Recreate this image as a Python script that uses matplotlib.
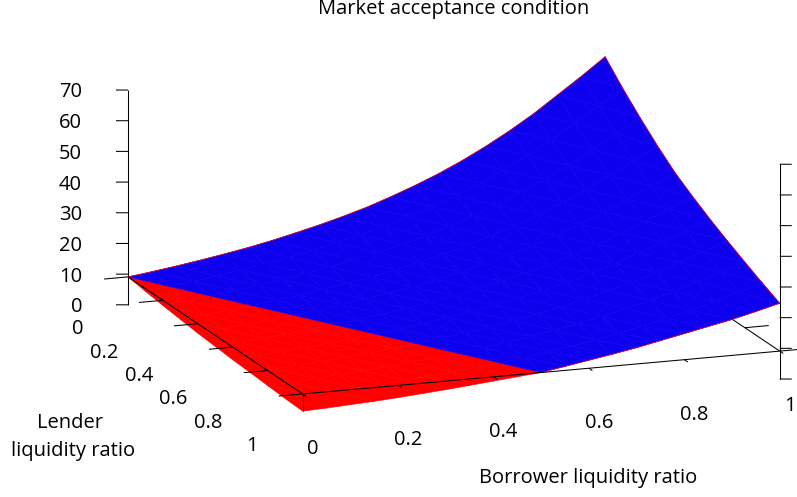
import numpy as np
import matplotlib
matplotlib.use('Agg')
import matplotlib.pyplot as plt

plt.rcParams['font.family'] = ['Open Sans', 'DejaVu Sans']

# Surface heights, one row per lender ratio
x_values = [0.0, 0.05, 0.1, 0.15, 0.2, 0.25, 0.3, 0.35, 0.4, 0.45, 0.5,
            0.55, 0.6, 0.65, 0.7, 0.75, 0.8, 0.85, 0.9, 0.95, 1.0]
y_values = [0.0, 0.1, 0.2, 0.3, 0.4, 0.5, 0.6, 0.7, 0.8, 0.9, 1.0]
z_y00 = [9.1, 10.1, 11.2, 12.4, 13.7, 15.1, 16.7, 18.5, 20.4, 22.5, 24.8, 27.5, 30.4, 33.6, 37.2, 41.2, 45.6, 50.4, 55.8, 61.2, 66.9]
z_y01 = [8.2, 9.1, 10.1, 11.2, 12.4, 13.7, 15.1, 16.7, 18.5, 20.4, 22.4, 24.9, 27.5, 30.4, 33.7, 37.3, 41.3, 45.6, 50.5, 55.4, 60.5]
z_y02 = [7.4, 8.3, 9.1, 10.1, 11.2, 12.4, 13.7, 15.1, 16.7, 18.4, 20.3, 22.5, 24.9, 27.5, 30.4, 33.7, 37.3, 41.2, 45.6, 50.1, 54.7]
z_y03 = [6.7, 7.4, 8.3, 9.1, 10.1, 11.1, 12.3, 13.6, 15.0, 16.6, 18.3, 20.3, 22.4, 24.8, 27.4, 30.4, 33.6, 37.1, 41.1, 45.1, 49.3]
z_y04 = [6.0, 6.7, 7.4, 8.2, 9.1, 10.0, 11.1, 12.3, 13.5, 14.9, 16.5, 18.3, 20.2, 22.3, 24.7, 27.4, 30.3, 33.5, 37.1, 40.6, 44.4]
z_y05 = [5.5, 6.1, 6.8, 7.5, 8.3, 9.1, 10.1, 11.2, 12.3, 13.6, 15.0, 16.6, 18.4, 20.3, 22.5, 24.9, 27.6, 30.5, 33.8, 37.0, 40.5]
z_y06 = [5.0, 5.6, 6.2, 6.8, 7.6, 8.3, 9.1, 10.2, 11.3, 12.4, 13.7, 15.2, 16.8, 18.5, 20.5, 22.7, 25.2, 27.8, 30.8, 33.8, 36.9]
z_y07 = [4.6, 5.1, 5.6, 6.2, 6.9, 7.6, 8.4, 9.1, 10.2, 11.3, 12.4, 13.8, 15.3, 16.9, 18.7, 20.7, 22.9, 25.3, 28.0, 30.7, 33.6]
z_y08 = [4.2, 4.6, 5.1, 5.7, 6.2, 6.9, 7.6, 8.4, 9.1, 10.3, 11.3, 12.5, 13.9, 15.3, 17.0, 18.8, 20.8, 23.0, 25.4, 27.9, 30.5]
z_y09 = [3.8, 4.2, 4.6, 5.1, 5.6, 6.2, 6.9, 7.6, 8.4, 9.1, 10.2, 11.3, 12.5, 13.8, 15.3, 16.9, 18.7, 20.7, 22.9, 25.2, 27.5]
z_y10 = [3.5, 3.8, 4.2, 4.6, 5.1, 5.7, 6.3, 7.0, 7.7, 8.4, 9.1, 10.4, 11.7, 13.0, 14.4, 16.0, 17.6, 19.2, 20.8, 22.7, 24.7]

x_ticks = [0, 0.2, 0.4, 0.6, 0.8, 1]
y_ticks = [0, 0.2, 0.4, 0.6, 0.8, 1]
z_ticks = [0, 10, 20, 30, 40, 50, 60, 70]
z_base = 9.1  # height of the base plane

Z = np.array([z_y00, z_y01, z_y02, z_y03, z_y04, z_y05, z_y06, z_y07, z_y08, z_y09, z_y10])
X, Y = np.meshgrid(x_values, y_values)
nx, ny = len(x_values), len(y_values)

# Split the grid in triangles: blue above the base plane, red below it
blue_tris, red_tris = [], []
for j in range(ny - 1):
    for i in range(nx - 1):
        a = j * nx + i
        b = a + 1
        c = a + nx + 1
        d = a + nx
        for tri in ([a, b, c], [a, c, d]):
            if X.ravel()[tri].mean() > 0.5 * Y.ravel()[tri].mean():
                blue_tris.append(tri)
            else:
                red_tris.append(tri)

fig = plt.figure(figsize=(7.97, 4.97), dpi=100)
ax = fig.add_axes([79 / 797, -112.4 / 497, 730 / 797, 730 / 497], projection='3d', proj_type='ortho')
ax.computed_zorder = False
ax.view_init(elev=-14.2, azim=-69.9)
ax.set_box_aspect((1, 1, 0.436))
ax.set_xlim(0, 1)
ax.set_ylim(0, 1)
ax.set_zlim(0, 70)
ax.set_axis_off()

ink = dict(color='black', lw=0.75, solid_capstyle='butt')
font_size = 14.5

# Everything the surface hides
ax.plot([0, 1], [0, 0], [z_base, z_base], zorder=1, **ink)
ax.plot([1, 1], [0, 1], [z_base, z_base], zorder=1, **ink)
for t in y_ticks:
    ax.plot([1, 1.05], [t, t], [z_base, z_base], zorder=1, **ink)

# z axes, with ticks, at both ends of the base diagonal
ax.plot([0, 0], [0, 0], [0, 70], zorder=1, **ink)
ax.plot([1, 1], [1, 1], [0, 70], zorder=1, **ink)
for t in z_ticks:
    ax.plot([0, -0.0221], [0, -0.0081], [t, t], zorder=1, **ink)
    ax.plot([1, 1.0221], [1, 1.0081], [t, t], zorder=1, **ink)
    ax.text(-0.0849, -0.0312, t - 0.8, str(t), ha='right', va='center', fontsize=font_size)

ax.plot_trisurf(X.ravel(), Y.ravel(), Z.ravel(), triangles=red_tris, color='#ff0000',
                shade=False, edgecolor='#ff0000', linewidth=0.4, zorder=2)
ax.plot_trisurf(X.ravel(), Y.ravel(), Z.ravel(), triangles=blue_tris, color='#0c00ee',
                shade=False, edgecolor='#0c00ee', linewidth=0.4, zorder=3)

# Red rim of the blue sheet
ax.plot(x_values, [0] * nx, z_y00, color='#ff0000', lw=0.5, zorder=3.5)
ax.plot([1] * ny, y_values, Z[:, -1], color='#ff0000', lw=0.5, zorder=3.5)
ax.plot(x_values[10:], [1] * 11, z_y10[10:], color='#ff0000', lw=0.5, zorder=3.5)

# Front of the base plane
ax.plot([0, 1], [1, 1], [z_base, z_base], zorder=4, **ink)
ax.plot([0, 0], [0, 1], [z_base, z_base], zorder=4, **ink)
ax.plot([0, 0], [1, 1], [z_base, z_y10[0]], zorder=4, **ink)
for t in x_ticks:
    ax.plot([t, t], [1, 1.02], [z_base, z_base], zorder=4, **ink)
    ax.text(t, 1.0575, z_base - 15.7, str(t), ha='center', va='center', fontsize=font_size)
for t in y_ticks:
    ax.plot([0, -0.05], [t, t], [z_base, z_base], zorder=4, **ink)
    ax.text(-0.0941, t, z_base - 15.7, str(t), ha='right', va='center', fontsize=font_size)

fig.text(454 / 797, 1 - 9 / 497, 'Market acceptance condition', ha='center', va='center', fontsize=font_size)
fig.text(588 / 797, 1 - 478 / 497, 'Borrower liquidity ratio', ha='center', va='center', fontsize=font_size)
fig.text(70 / 797, 1 - 423 / 497, 'Lender', ha='center', va='center', fontsize=font_size)
fig.text(73 / 797, 1 - 451 / 497, 'liquidity ratio', ha='center', va='center', fontsize=font_size)

fig.savefig('out.png', dpi=100)
